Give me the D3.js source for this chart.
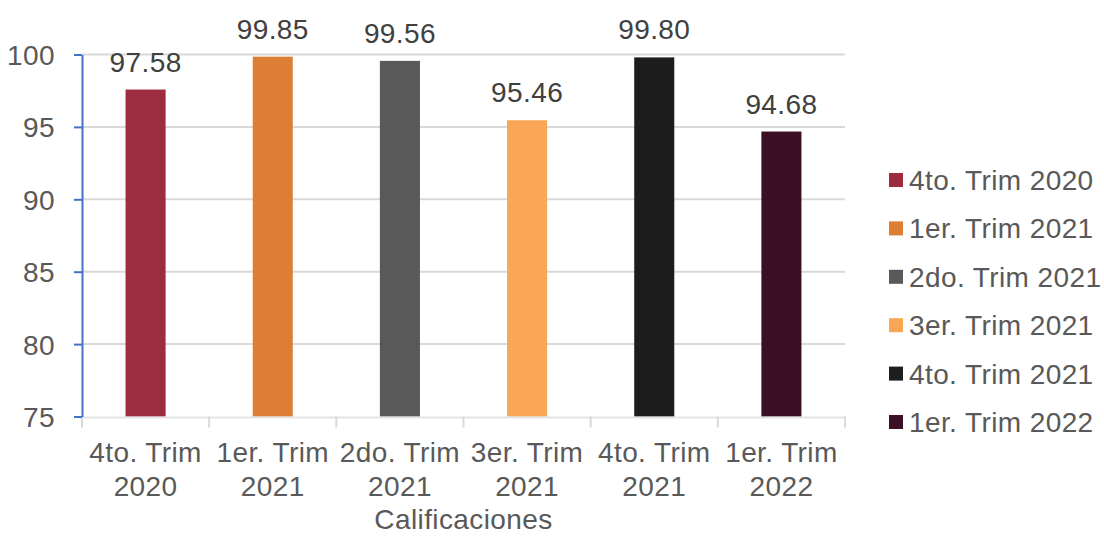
<!DOCTYPE html>
<html><head><meta charset="utf-8">
<script src="https://cdn.jsdelivr.net/npm/d3@7"></script>
<style>body{margin:0;background:#fff}svg{display:block}text{font-family:"Liberation Sans",Arial,sans-serif;fill:#595959;letter-spacing:0.4px}</style>
</head><body>
<svg id="c" width="1104" height="536"></svg>
<script>
const categories = ["4to. Trim 2020","1er. Trim 2021","2do. Trim 2021","3er. Trim 2021","4to. Trim 2021","1er. Trim 2022"];
const catLine1 = ["4to. Trim","1er. Trim","2do. Trim","3er. Trim","4to. Trim","1er. Trim"];
const catLine2 = ["2020","2021","2021","2021","2021","2022"];
const values = [97.58, 99.85, 99.56, 95.46, 99.80, 94.68];
const colors = ["#9D2C3F","#DD7E34","#595959","#F9A656","#1D1D1D","#3C1024"];
const yTicks = [75,80,85,90,95,100];
const axisTitle = "Calificaciones";

const FS = "28px";
const svg = d3.select("#c");
const L = 82, R = 845, T = 54.5, B = 416.5;
const x = d3.scaleBand().domain(categories).range([L, R]).paddingInner(0.685).paddingOuter(0.3425);
const y = d3.scaleLinear().domain([75, 100]).range([B, T]);

// gridlines
svg.append("g").selectAll("line").data(yTicks.filter(d=>d>75)).join("line")
  .attr("x1", L).attr("x2", R).attr("y1", d=>y(d)).attr("y2", d=>y(d))
  .attr("stroke", "#d9d9d9").attr("stroke-width", 2);

// bars
svg.append("g").selectAll("rect").data(values).join("rect")
  .attr("x", (d,i)=>x(categories[i])).attr("width", x.bandwidth())
  .attr("y", d=>y(d)).attr("height", d=>B - y(d))
  .attr("fill", (d,i)=>colors[i]);

// x axis
svg.append("line").attr("x1", L).attr("x2", R).attr("y1", B+1).attr("y2", B+1)
  .attr("stroke", "#d9d9d9").attr("stroke-width", 2).attr("opacity", 0.7);
const bounds = categories.map(c=>x(c) - x.step()*x.paddingInner()/2).concat([R]);
svg.append("g").selectAll("line").data(bounds).join("line")
  .attr("x1", d=>d).attr("x2", d=>d).attr("y1", B).attr("y2", B+11)
  .attr("stroke", "#d9d9d9").attr("stroke-width", 2);
const lab = svg.append("g").selectAll("text").data(categories).join("text")
  .attr("text-anchor", "middle").style("font-size", FS)
  .attr("x", d=>x(d)+x.bandwidth()/2);
lab.append("tspan").attr("x", d=>x(d)+x.bandwidth()/2).attr("y", 461.5).text((d,i)=>catLine1[i]);
lab.append("tspan").attr("x", d=>x(d)+x.bandwidth()/2).attr("y", 495.5).text((d,i)=>catLine2[i]);

// y axis
const ya = svg.append("g").attr("transform", `translate(${L},0)`)
  .call(d3.axisLeft(y).tickValues(yTicks).tickSize(8).tickSizeOuter(0).tickPadding(19));
ya.select(".domain").attr("stroke", "#4472C4").attr("stroke-width", 2);
ya.selectAll(".tick line").attr("stroke", "#4472C4").attr("stroke-width", 2);
ya.selectAll(".tick text").style("font-size", FS).style("font-family", "Liberation Sans, Arial, sans-serif")
  .attr("fill", "#595959").attr("dy", null).attr("y", 10);

// data labels
svg.append("g").selectAll("text").data(values).join("text")
  .attr("text-anchor", "middle").style("font-size", FS)
  .style("fill", "#404040")
  .attr("x", (d,i)=>x(categories[i]) + x.bandwidth()/2)
  .attr("y", d=>y(d) - 18)
  .text(d=>d.toFixed(2));

// axis title
svg.append("text").attr("x", (L+R)/2).attr("y", 529).attr("text-anchor", "middle")
  .style("font-size", FS).text(axisTitle);

// legend
const lg = svg.append("g").selectAll("g").data(categories).join("g")
  .attr("transform", (d,i)=>`translate(889,${180 + i*48.4})`);
lg.append("rect").attr("x", 0).attr("y", -7).attr("width", 14).attr("height", 14).attr("fill", (d,i)=>colors[i]);
lg.append("text").attr("x", 20).attr("y", 10).style("font-size", FS).text(d=>d);
</script>
</body></html>
